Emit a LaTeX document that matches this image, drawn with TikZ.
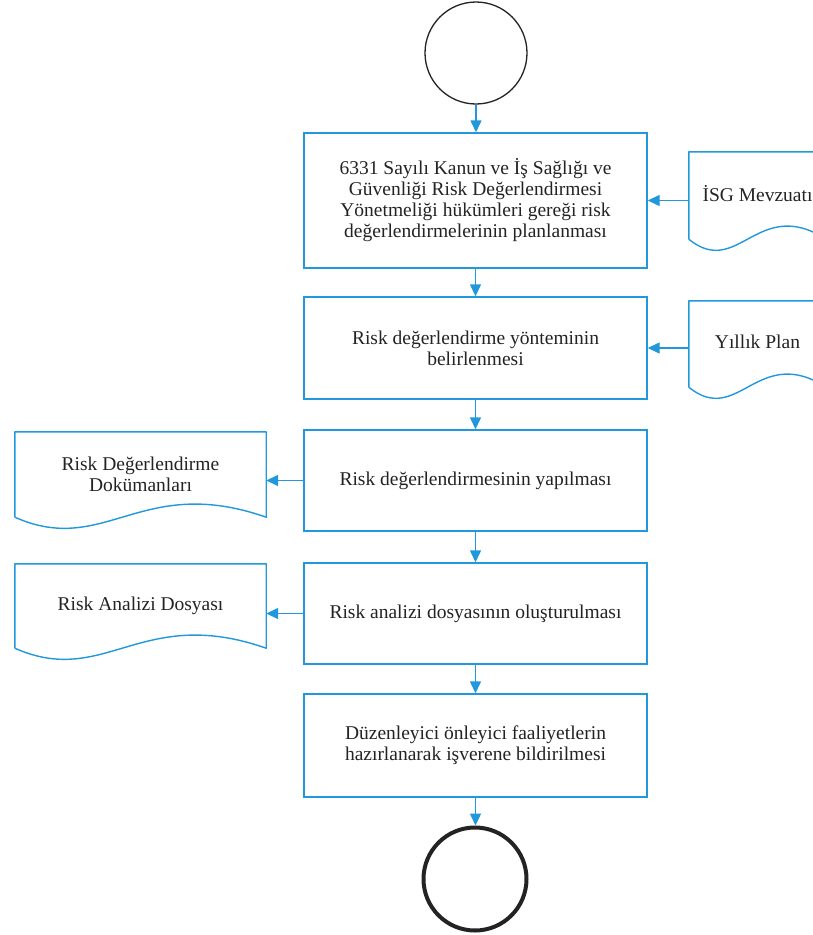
\documentclass[tikz,border=0pt]{standalone}
\usepackage{fontspec}
\setmainfont{Liberation Serif}
\usetikzlibrary{arrows.meta}
\definecolor{flowblue}{RGB}{32,152,219}
\definecolor{inkc}{RGB}{35,35,35}
\begin{document}
\begin{tikzpicture}[x=1pt,y=1pt,
  txt/.style={font=\fontsize{19.5}{21}\selectfont, text=inkc, align=center},
  proc/.style={txt, draw=flowblue, line width=1.4pt, minimum width=343pt, inner sep=0pt},
  docnode/.style={txt, inner sep=0pt},
  docline/.style={draw=flowblue, line width=1.4pt, line join=round},
  arr/.style={draw=flowblue, line width=1.4pt, -{Triangle[length=12pt,width=11pt]}},
  term/.style={circle, draw=inkc, inner sep=0pt}]
\useasboundingbox (0,0) rectangle (813,-935);
\clip (0,0) rectangle (813,-935);

% terminals
\node[term, line width=1.3pt, minimum size=102pt] (start) at (476,-53) {};
\node[term, line width=4pt, minimum size=103pt] (stop) at (475,-879) {};

% process boxes
\node[proc, minimum height=135pt] (b1) at (475.5,-200.5)
  {6331 Sayılı Kanun ve İş Sağlığı ve\\Güvenliği Risk Değerlendirmesi\\Yönetmeliği hükümleri gereği risk\\değerlendirmelerinin planlanması};
\node[proc, minimum height=102pt] (b2) at (475.5,-348)
  {Risk değerlendirme yönteminin\\belirlenmesi};
\node[proc, minimum height=101pt] (b3) at (475.5,-480.5)
  {Risk değerlendirmesinin yapılması};
\node[proc, minimum height=101pt] (b4) at (475.5,-613.5)
  {Risk analizi dosyasının oluşturulması};
\node[proc, minimum height=103pt] (b5) at (475.5,-745.5)
  {Düzenleyici önleyici faaliyetlerin\\hazırlanarak işverene bildirilmesi};

% document nodes
\node[docnode, minimum width=137pt, minimum height=87pt] (isg) at (757.5,-195.5) {\raisebox{5pt}{İSG Mevzuatı}};
\node[docnode, minimum width=137pt, minimum height=86pt] (yil) at (757.5,-344) {\raisebox{4pt}{Yıllık Plan}};
\node[docnode, minimum width=251pt, minimum height=85pt] (d1) at (140.5,-474.5) {Risk Değerlendirme\\Dokümanları};
\node[docnode, minimum width=251pt, minimum height=84pt] (d2) at (140.5,-606) {Risk Analizi Dosyası};

% document outlines
\foreach \d/\w in {isg/137, yil/137, d1/251, d2/251}{
  \draw[docline] (\d.south west) -- (\d.north west) -- (\d.north east) -- (\d.south east)
    .. controls ([xshift=-0.5*\w pt, yshift=44pt]\d.south east)
       and ([xshift=0.36*\w pt, yshift=-40pt]\d.south west) .. (\d.south west);
}

% connectors
\draw[arr] (start.south) -- (start.south |- b1.north);
\draw[arr] (b1.south) -- (b2.north);
\draw[arr] (b2.south) -- (b3.north);
\draw[arr] (b3.south) -- (b4.north);
\draw[arr] (b4.south) -- (b5.north);
\draw[arr] (b5.south) -- (b5.south |- stop.north);
\draw[arr] (isg.west |- b1.east) -- (b1.east);
\draw[arr] (yil.west |- b2.east) -- (b2.east);
\draw[arr] (b3.west) -- (d1.east |- b3.west);
\draw[arr] (b4.west) -- (d2.east |- b4.west);
\end{tikzpicture}
\end{document}
